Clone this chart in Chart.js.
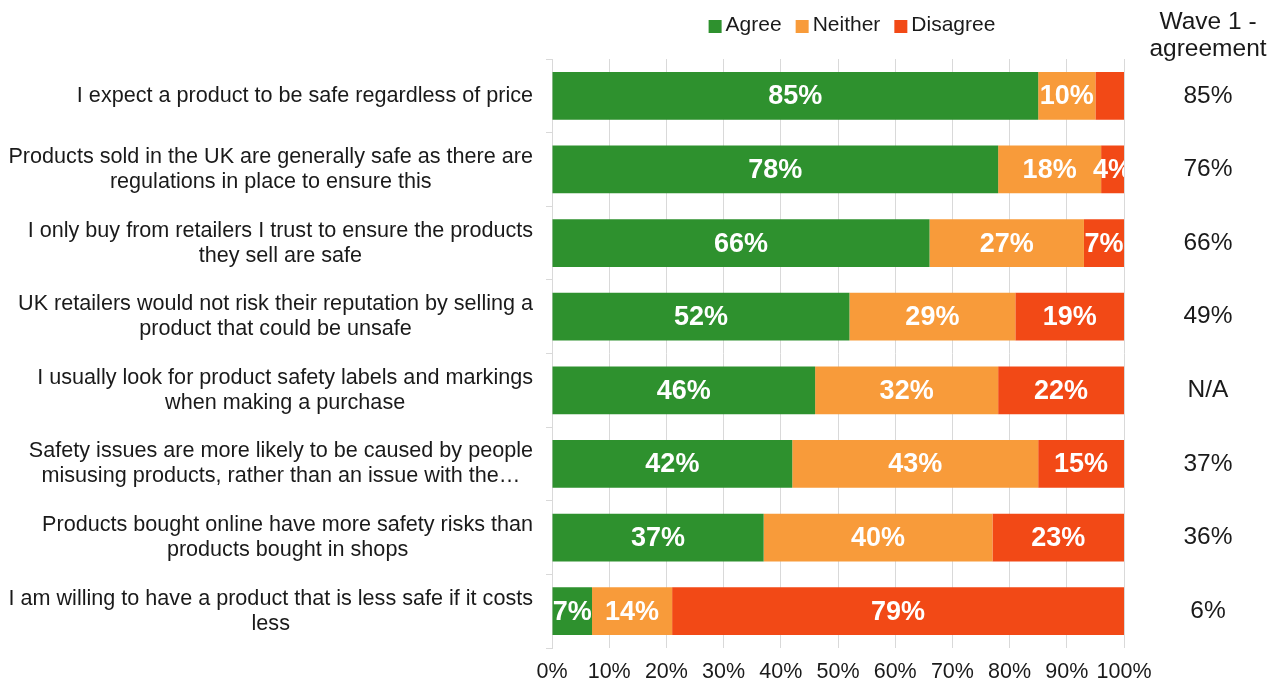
<!DOCTYPE html>
<html>
<head>
<meta charset="utf-8">
<script src="https://cdn.jsdelivr.net/npm/chart.js@4/dist/chart.umd.min.js"></script>
<style>
  html, body { margin: 0; padding: 0; background: #fff; }
  #wrap { width: 1281px; height: 684px; position: relative; }
</style>
</head>
<body>
<div id="wrap"><canvas id="chart"></canvas></div>
<script>
const statements = [
  ['I expect a product to be safe regardless of price'],
  ['Products sold in the UK are generally safe as there are', 'regulations in place to ensure this'],
  ['I only buy from retailers I trust to ensure the products', 'they sell are safe'],
  ['UK retailers would not risk their reputation by selling a', 'product that could be unsafe'],
  ['I usually look for product safety labels and markings', 'when making a purchase'],
  ['Safety issues are more likely to be caused by people', 'misusing products, rather than an issue with the…'],
  ['Products bought online have more safety risks than', 'products bought in shops'],
  ['I am willing to have a product that is less safe if it costs', 'less']
]
const agree    = [85, 78, 66, 52, 46, 42, 37, 7]
const neither  = [10, 18, 27, 29, 32, 43, 40, 14]
const disagree = [5, 4, 7, 19, 22, 15, 23, 79]
// the 5% segment in the first row carries no label
const disagreeLabelled = [false, true, true, true, true, true, true, true]
const wave1 = ['85%', '76%', '66%', '49%', 'N/A', '37%', '36%', '6%']
const wave1Title = ['Wave 1 -', 'agreement']

const FONT = '"Liberation Sans", Arial, sans-serif'
const TEXT = '#1a1a1a'

// category labels: block right aligned to the axis, lines centred inside the block
const statementLabels = {
  id: 'statementLabels',
  afterDraw(chart) {
    const ctx = chart.ctx
    const y = chart.scales.y
    const right = chart.chartArea.left - 19
    const lineH = 25
    ctx.save()
    ctx.font = '21.6px ' + FONT
    ctx.fillStyle = TEXT
    ctx.textAlign = 'center'
    ctx.textBaseline = 'middle'
    statements.forEach((lines, i) => {
      const w = Math.max(...lines.map(l => ctx.measureText(l).width))
      const cx = right - w / 2
      const cy = y.getPixelForValue(i)
      lines.forEach((l, j) => {
        ctx.fillText(l, cx, cy + (j - (lines.length - 1) / 2) * lineH)
      })
    })
    ctx.restore()
  }
}

// white percentages in the middle of each segment
const segmentLabels = {
  id: 'segmentLabels',
  afterDatasetsDraw(chart) {
    const ctx = chart.ctx
    const area = chart.chartArea
    ctx.save()
    ctx.beginPath()
    ctx.rect(area.left, area.top, area.right - area.left, area.bottom - area.top)
    ctx.clip()
    ctx.font = 'bold 27px ' + FONT
    ctx.fillStyle = '#fff'
    ctx.textAlign = 'center'
    ctx.textBaseline = 'middle'
    chart.data.datasets.forEach((ds, di) => {
      const meta = chart.getDatasetMeta(di)
      meta.data.forEach((bar, i) => {
        if (ds.showLabel && !ds.showLabel[i]) return
        const v = ds.data[i]
        ctx.fillText(v + '%', (bar.x + bar.base) / 2, bar.y + 1)
      })
    })
    ctx.restore()
  }
}

// right hand column with the wave 1 agreement figures
const waveColumn = {
  id: 'waveColumn',
  afterDraw(chart) {
    const ctx = chart.ctx
    const y = chart.scales.y
    const cx = 1208
    ctx.save()
    ctx.font = '24.5px ' + FONT
    ctx.fillStyle = TEXT
    ctx.textAlign = 'center'
    ctx.textBaseline = 'middle'
    ctx.fillText(wave1Title[0], cx, 22)
    ctx.fillText(wave1Title[1], cx, 49)
    wave1.forEach((t, i) => ctx.fillText(t, cx, y.getPixelForValue(i)))
    ctx.restore()
  }
}

// legend across the top of the plot
const topLegend = {
  id: 'topLegend',
  afterDraw(chart) {
    const ctx = chart.ctx
    const box = 13, gap = 4, spacing = 14
    ctx.save()
    ctx.font = '21px ' + FONT
    ctx.textBaseline = 'middle'
    ctx.textAlign = 'left'
    const items = chart.data.datasets.map(ds => ({
      text: ds.label, color: ds.backgroundColor, w: ctx.measureText(ds.label).width
    }))
    const total = items.reduce((s, it) => s + box + gap + it.w, 0) + spacing * (items.length - 1)
    let x = 852 - total / 2
    const cy = 25
    items.forEach(it => {
      ctx.fillStyle = it.color
      ctx.fillRect(x, cy - 5, box, box)
      ctx.fillStyle = TEXT
      ctx.fillText(it.text, x + box + gap, cy)
      x += box + gap + it.w + spacing
    })
    ctx.restore()
  }
}

new Chart(document.getElementById('chart'), {
  type: 'bar',
  data: {
    labels: statements,
    datasets: [
      { label: 'Agree', data: agree, backgroundColor: '#2e912e' },
      { label: 'Neither', data: neither, backgroundColor: '#f89b3a' },
      { label: 'Disagree', data: disagree, backgroundColor: '#f24916', showLabel: disagreeLabelled }
    ]
  },
  options: {
    indexAxis: 'y',
    responsive: true,
    maintainAspectRatio: false,
    animation: false,
    devicePixelRatio: 1,
    layout: { padding: { top: 59, right: 157, left: 0, bottom: 0 } },
    datasets: { bar: { barPercentage: 0.65, categoryPercentage: 1 } },
    plugins: {
      legend: { display: false },
      tooltip: { enabled: false }
    },
    scales: {
      x: {
        stacked: true,
        min: 0,
        max: 100,
        ticks: {
          stepSize: 10,
          padding: 11,
          maxRotation: 0,
          minRotation: 0,
          autoSkip: false,
          color: TEXT,
          font: { family: FONT, size: 21.5 },
          callback: v => v + '%'
        },
        grid: { color: '#d9d9d9', drawTicks: false },
        border: { display: false },
        afterFit: s => { s.height = 36 }
      },
      y: {
        stacked: true,
        ticks: { display: false },
        grid: { drawOnChartArea: false, drawTicks: true, tickLength: 6, color: '#d9d9d9' },
        border: { display: true, color: '#d9d9d9' },
        afterFit: s => { s.width = 552 }
      }
    }
  },
  plugins: [statementLabels, segmentLabels, waveColumn, topLegend]
})
</script>
</body>
</html>
